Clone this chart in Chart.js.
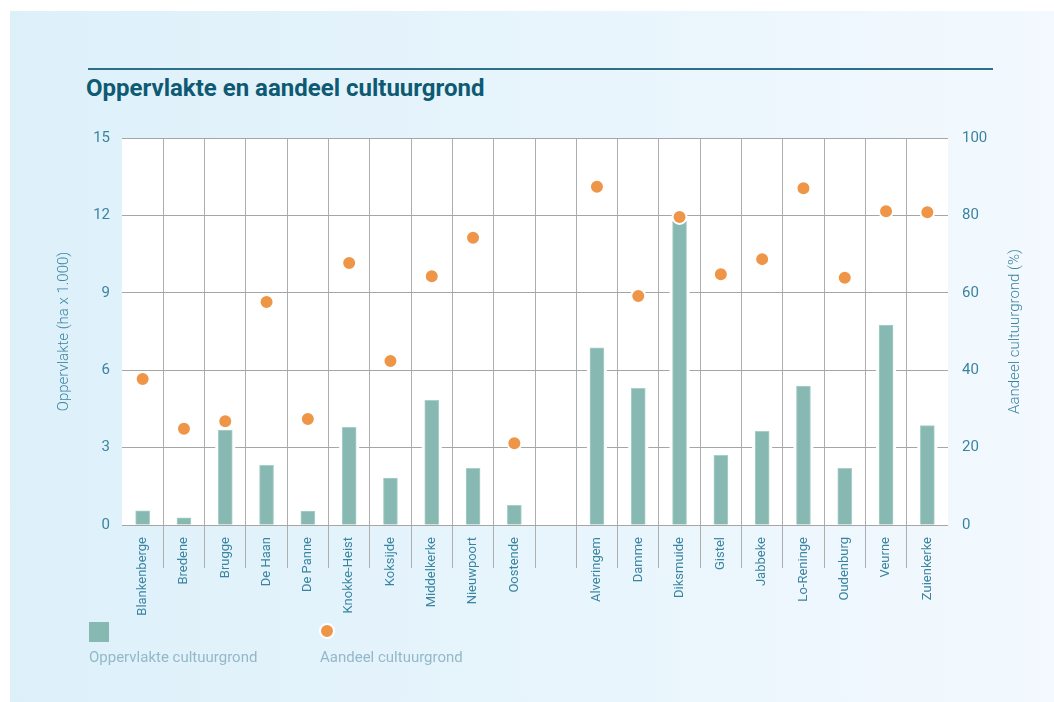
<!DOCTYPE html>
<html>
<head>
<meta charset="utf-8">
<script src="https://cdn.jsdelivr.net/npm/chart.js@4/dist/chart.umd.min.js"></script>
<style>
  html, body { margin: 0; padding: 0; background: #ffffff; }
  body { width: 1054px; height: 702px; position: relative; overflow: hidden; font-family: Roboto, "Noto Sans", sans-serif; }
  #card { position: absolute; left: 10px; top: 11px; width: 1044px; height: 691px;
          background: linear-gradient(to right, #ddf0fa 0%, #e8f5fc 55%, #f3f9fe 100%); }
  #rule { position: absolute; left: 88px; top: 68px; width: 905px; height: 2px; background: #2d6f86; }
  #title { position: absolute; left: 86px; top: 74px; font-size: 24px; font-weight: 700; color: #0e5a73;
           white-space: nowrap; }
  #chartbox { position: absolute; left: 0; top: 0; width: 1054px; height: 702px; }
  .leg { position: absolute; font-size: 15px; font-weight: 400; color: #93b8c8; white-space: nowrap; }
  #legSq { position: absolute; left: 89px; top: 622px; width: 20px; height: 20px; background: #88b8b2; }
  #legDot { position: absolute; left: 319px; top: 623px; width: 12px; height: 12px; border-radius: 50%;
            background: #ee9548; border: 2px solid #ffffff; }
</style>
</head>
<body>
<div id="card"></div>
<div id="rule"></div>
<div id="title">Oppervlakte en aandeel cultuurgrond</div>
<div id="chartbox"><canvas id="c" width="1054" height="702"></canvas></div>
<div id="legSq"></div>
<div class="leg" style="left:89px; top:648px;">Oppervlakte cultuurgrond</div>
<div id="legDot"></div>
<div class="leg" style="left:320px; top:648px;">Aandeel cultuurgrond</div>
<script>
// ---- data ----
const categories = ['Blankenberge','Bredene','Brugge','De Haan','De Panne','Knokke-Heist','Koksijde','Middelkerke','Nieuwpoort','Oostende','',
                    'Alveringem','Damme','Diksmuide','Gistel','Jabbeke','Lo-Reninge','Oudenburg','Veurne','Zuienkerke'];
const areaValues  = [0.55, 0.28, 3.68, 2.31, 0.54, 3.79, 1.82, 4.83, 2.20, 0.76, null,
                     6.87, 5.30, 11.78, 2.70, 3.63, 5.38, 2.20, 7.75, 3.85];
const shareValues = [37.7, 24.9, 26.8, 57.6, 27.4, 67.7, 42.4, 64.3, 74.2, 21.1, null,
                     87.4, 59.2, 79.6, 64.8, 68.7, 87.0, 63.9, 81.1, 80.8];
const leftTicks  = [0, 3, 6, 9, 12, 15];
const rightTicks = [0, 20, 40, 60, 80, 100];
const leftTitle  = 'Oppervlakte (ha x 1.000)';
const rightTitle = 'Aandeel cultuurgrond (%)';
const seriesNames = ['Oppervlakte cultuurgrond', 'Aandeel cultuurgrond'];

const tickColor = '#3a84a0';
const gridColor = '#a6a6a6';

const plotBg = {
  id: 'plotBg',
  beforeDraw(chart) {
    const {ctx, chartArea: a} = chart;
    ctx.save();
    ctx.fillStyle = '#ffffff';
    ctx.fillRect(a.left, a.top, a.right - a.left, a.bottom - a.top);
    ctx.restore();
  },
  beforeDatasetDraw(chart, args) {
    if (args.meta.type !== 'bar') return;
    const ctx = chart.ctx;
    ctx.save();
    ctx.fillStyle = '#ffffff';
    args.meta.data.forEach(el => {
      if (el.skip || el.y == null || isNaN(el.y)) return;
      const w = el.width;
      const top = Math.min(el.y, el.base), bot = Math.max(el.y, el.base);
      ctx.fillRect(el.x - w / 2 - 3, top - 3, w + 6, bot - top + 2);
    });
    ctx.restore();
  },
  afterDraw(chart) {
    const ctx = chart.ctx;
    const midY = (chart.chartArea.top + chart.chartArea.bottom) / 2;
    [[64, leftTitle], [1015, rightTitle]].forEach(([x, t]) => {
      ctx.save();
      ctx.fillStyle = tickColor;
      ctx.font = '300 15px Roboto';
      ctx.textAlign = 'center';
      ctx.textBaseline = 'middle';
      ctx.translate(x, midY);
      ctx.rotate(-Math.PI / 2);
      ctx.fillText(t, 0, 0);
      ctx.restore();
    });
  }
};

new Chart(document.getElementById('c'), {
  type: 'bar',
  data: {
    labels: categories,
    datasets: [
      {
        type: 'line',
        label: seriesNames[1],
        data: shareValues,
        yAxisID: 'y2',
        showLine: false,
        pointRadius: 7,
        pointHoverRadius: 7,
        pointBackgroundColor: '#ee9548',
        pointBorderColor: '#ffffff',
        pointBorderWidth: 2,
        order: 1
      },
      {
        type: 'bar',
        label: seriesNames[0],
        data: areaValues,
        yAxisID: 'y',
        backgroundColor: '#88b8b2',
        borderColor: '#a8d0ca',
        borderWidth: 1,
        borderSkipped: 'bottom',
        barThickness: 14,
        order: 2
      }
    ]
  },
  options: {
    responsive: false,
    animation: false,
    devicePixelRatio: 1,
    layout: { padding: { top: 138, left: 0, right: 0, bottom: 0 } },
    plugins: { legend: { display: false }, tooltip: { enabled: false }, title: { display: false } },
    scales: {
      x: {
        offset: true,
        border: { display: false },
        grid: {
          offset: true,
          color: (c) => (c.index === undefined || c.index === 0) ? 'rgba(0,0,0,0)' : '#aeaeae',
          lineWidth: 1,
          drawTicks: true,
          tickLength: 43
        },
        ticks: {
          autoSkip: false,
          maxRotation: 90,
          minRotation: 90,
          padding: -31,
          color: tickColor,
          font: { family: 'Roboto', size: 13, weight: '400' }
        },
        afterFit(s) { s.height = 177; }
      },
      y: {
        position: 'left',
        min: 0, max: 15,
        afterBuildTicks(s) { s.ticks = leftTicks.map(v => ({ value: v })); },
        border: { display: false },
        grid: { color: gridColor, lineWidth: 1, drawTicks: false, tickLength: 0 },
        ticks: { padding: 12, color: tickColor, font: { family: 'Roboto', size: 15, weight: '400' } },
        afterFit(s) { s.width = 122; }
      },
      y2: {
        position: 'right',
        min: 0, max: 100,
        afterBuildTicks(s) { s.ticks = rightTicks.map(v => ({ value: v })); },
        border: { display: false },
        grid: { drawOnChartArea: false, drawTicks: false, tickLength: 0 },
        ticks: { padding: 14, color: tickColor, font: { family: 'Roboto', size: 15, weight: '400' } },
        afterFit(s) { s.width = 106; }
      }
    }
  },
  plugins: [plotBg]
});
</script>
</body>
</html>
